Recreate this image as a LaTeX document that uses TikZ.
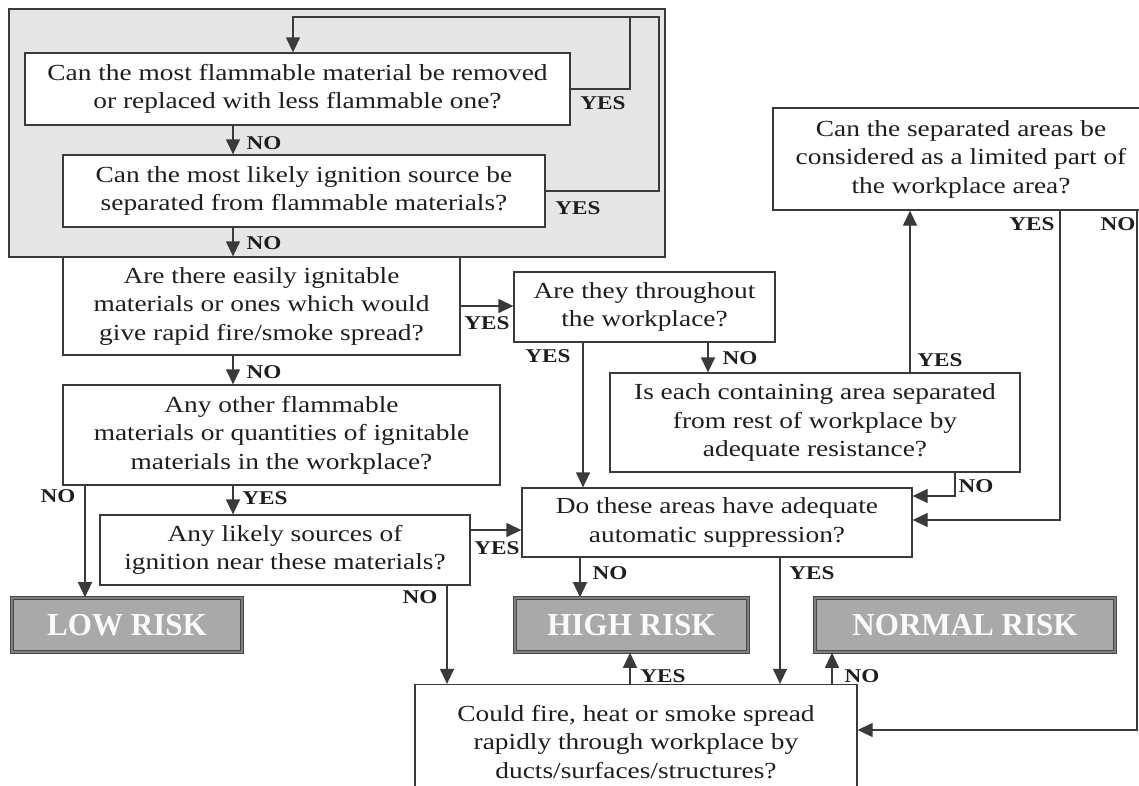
\documentclass[tikz,border=0pt]{standalone}
\usepackage{fontspec}
\setmainfont{Liberation Serif}[FakeStretch=1.19]
\newfontfamily\riskfont{Liberation Serif}[FakeStretch=0.97]
\usetikzlibrary{arrows.meta}
\definecolor{ink}{HTML}{1E1E1E}
\definecolor{ln}{HTML}{3A3A3A}
\definecolor{panel}{HTML}{E6E6E6}
\definecolor{riskfill}{HTML}{A9A9A9}
\tikzset{
  qbox/.style={draw=ln, fill=white, line width=1.3pt, align=center, inner sep=0pt,
    text=ink, font=\fontsize{23}{28.5}\selectfont},
  riskbox/.style={draw=black!72, double=riskfill!75!black, double distance=1.4pt, line width=1.6pt,
    fill=riskfill, inner sep=0pt, text=white!96!gray, font=\riskfont\bfseries\fontsize{32}{34}\selectfont},
  lbl/.style={text=ink, inner sep=0pt, font=\bfseries\fontsize{19.5}{20}\selectfont},
  conn/.style={draw=ln, line width=1.3pt},
  arr/.style={conn, -{Triangle[length=15pt,width=14pt]}}
}
\begin{document}
\begin{tikzpicture}[x=1pt,y=-1pt]
\useasboundingbox (0,0) rectangle (1139,785);
\fill[white] (0,0) rectangle (1139,785);
% grey panel
\draw[draw=ln, fill=panel, line width=1.3pt] (9,9) rectangle (665,257);

% x helper coordinates
\coordinate (x85) at (85,0);
\coordinate (x233) at (233,0);
\coordinate (x447) at (447,0);
\coordinate (x580) at (580,0);
\coordinate (x583) at (583,0);
\coordinate (x630) at (630,0);
\coordinate (x708) at (708,0);
\coordinate (x780) at (780,0);
\coordinate (x832) at (832,0);
\coordinate (x910) at (910,0);
\coordinate (x955) at (955,0);
\coordinate (x1060) at (1060,0);
\coordinate (x1137) at (1137,0);
\coordinate (y496) at (0,496);
\coordinate (y520) at (0,520);
\coordinate (y530) at (0,530);
\coordinate (y730) at (0,730);

% boxes
\node[qbox, minimum width=545pt, minimum height=72pt] (b1) at (297.5,89)
  {Can the most flammable material be removed\\or replaced with less flammable one?};
\node[qbox, minimum width=482pt, minimum height=72pt] (b2) at (304,191)
  {Can the most likely ignition source be\\separated from flammable materials?};
\node[qbox, minimum width=397pt, minimum height=98pt] (b3) at (261.5,306)
  {Are there easily ignitable\\materials or ones which would\\give rapid fire/smoke spread?};
\node[qbox, minimum width=261pt, minimum height=70pt] (b4) at (644.5,307)
  {Are they throughout\\the workplace?};
\node[qbox, minimum width=410pt, minimum height=99pt] (b5) at (815,422.5)
  {Is each containing area separated\\from rest of workplace by\\adequate resistance?};
\node[qbox, minimum width=376pt, minimum height=102pt] (b6) at (961,159)
  {Can the separated areas be\\considered as a limited part of\\the workplace area?};
\node[qbox, minimum width=437pt, minimum height=100pt] (b7) at (281.5,435)
  {Any other flammable\\materials or quantities of ignitable\\materials in the workplace?};
\node[qbox, minimum width=370pt, minimum height=70pt] (b8) at (285,550)
  {Any likely sources of\\ignition near these materials?};
\node[qbox, minimum width=390pt, minimum height=69pt] (ds) at (717,522.5)
  {Do these areas have adequate\\automatic suppression?};
\node[qbox, minimum width=442pt, minimum height=115pt] (b9) at (636,742)
  {Could fire, heat or smoke spread\\rapidly through workplace by\\ducts/surfaces/structures?};

\node[riskbox, minimum width=230pt, minimum height=54pt] (low) at (127,625) {LOW RISK};
\node[riskbox, minimum width=233pt, minimum height=54pt] (high) at (631.5,625) {HIGH RISK};
\node[riskbox, minimum width=300pt, minimum height=54pt] (normal) at (965,625) {NORMAL RISK};

% feedback loops in grey panel
\coordinate (t0) at (293,17);
\coordinate (t1) at (630,17);
\coordinate (t2) at (659,17);
\draw[arr] (b1.east) -| (t1) -- (t0) -- (t0 |- b1.north);
\draw[conn] (b2.east) -| (t2) -- (t1);

% vertical chain
\draw[arr] (b1.south -| x233) -- (b2.north -| x233);
\draw[arr] (b2.south -| x233) -- (b3.north -| x233);
\draw[arr] (b3.south -| x233) -- (b7.north -| x233);
\draw[arr] (b7.south -| x233) -- (b8.north -| x233);
\draw[arr] (b7.south -| x85) -- (low.north -| x85);

\draw[arr] (b3.east) -- (b3.east -| b4.west);
\draw[arr] (b4.south -| x583) -- (ds.north -| x583);
\draw[arr] (b4.south -| x708) -- (b5.north -| x708);
\draw[arr] (b5.north -| x910) -- (b6.south -| x910);
\draw[arr] (b5.south -| x955) |- (ds.east |- y496);
\draw[arr] (b6.south -| x1060) |- (ds.east |- y520);
\draw[arr] (b6.south -| x1137) |- (b9.east |- y730);
\draw[arr] (b8.east |- y530) -- (ds.west |- y530);
\draw[arr] (b8.south -| x447) -- (b9.north -| x447);
\draw[arr] (ds.south -| x580) -- (high.north -| x580);
\draw[arr] (ds.south -| x780) -- (b9.north -| x780);
\draw[arr] (b9.north -| x630) -- (high.south -| x630);
\draw[arr] (b9.north -| x832) -- (normal.south -| x832);

% labels
\node[lbl] (l1) at (603,103) {YES};
\node[lbl] (l2) at (578,208) {YES};
\node[lbl] (l3) at (264,143) {NO};
\node[lbl] (l4) at (264,243) {NO};
\node[lbl] (l5) at (487,323) {YES};
\node[lbl] (l6) at (548,356) {YES};
\node[lbl] (l7) at (740,358) {NO};
\node[lbl] (l8) at (940,360) {YES};
\node[lbl] (l9) at (976,486) {NO};
\node[lbl] (l10) at (1032,224) {YES};
\node[lbl] (l11) at (1118,224) {NO};
\node[lbl] (l12) at (264,372) {NO};
\node[lbl] (l13) at (58,496) {NO};
\node[lbl] (l14) at (265,498) {YES};
\node[lbl] (l15) at (497,548) {YES};
\node[lbl] (l16) at (420,597) {NO};
\node[lbl] (l17) at (610,573) {NO};
\node[lbl] (l18) at (812,573) {YES};
\node[lbl] (l19) at (663,676) {YES};
\node[lbl] (l20) at (862,676) {NO};
\end{tikzpicture}
\end{document}
